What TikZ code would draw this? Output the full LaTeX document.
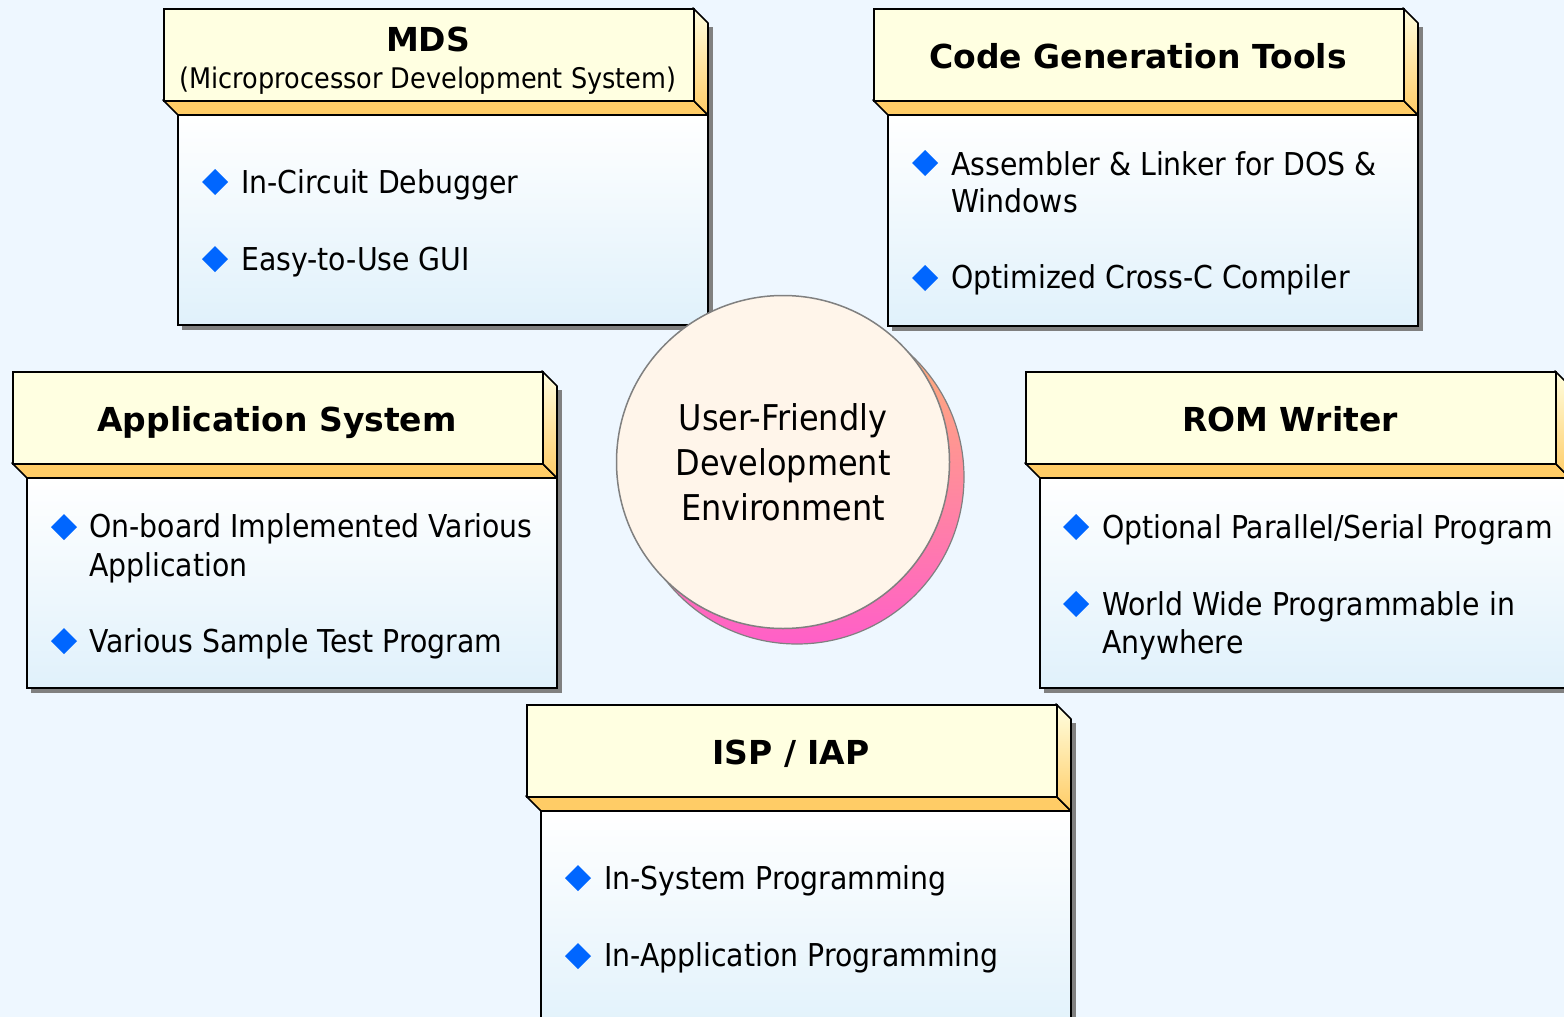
\documentclass[tikz,border=0pt]{standalone}
\usepackage{fontspec}
\setmainfont{DejaVu Sans}
\newfontfamily\narrowfont{DejaVu Sans}[FakeStretch=0.9]
\definecolor{bgc}{HTML}{EEF7FF}
\definecolor{hdr}{HTML}{FFFFE1}
\definecolor{hdrside}{HTML}{FFCC66}
\definecolor{bodytop}{HTML}{FFFFFF}
\definecolor{bodybot}{HTML}{E0F1FB}
\definecolor{shadowgray}{HTML}{808080}
\definecolor{bul}{HTML}{0066FF}
\definecolor{linen}{HTML}{FFF5EA}
\definecolor{circtop}{HTML}{FFB870}
\definecolor{circbot}{HTML}{FF5FC8}
\tikzset{
  hdrface/.style={draw=black, line width=1.6, fill=hdr, inner sep=0, anchor=north west},
  hdrtext/.style={font=\fontsize{33}{40}\selectfont\bfseries, anchor=base, inner sep=0},
  subtext/.style={font=\narrowfont\fontsize{28.4}{34}\selectfont, anchor=base, inner sep=0},
  itemtext/.style={font=\narrowfont\fontsize{31.5}{38}\selectfont, anchor=base west, inner sep=0},
  ctrtext/.style={font=\narrowfont\fontsize{35.5}{42}\selectfont, anchor=base, inner sep=0},
  bulletmark/.style={fill=bul}
}
% #1 x0, #2 y0, #3 x1, #4 y1, #5 bottom, #6 name
\newcommand\threedbox[6]{%
  \fill[shadowgray] (#1+19,#2+19) rectangle (#3+20,#5+5);
  \shadedraw[top color=bodytop, bottom color=bodybot, draw=black, line width=1.3]
     (#1+15,#4+15) rectangle (#3+15,#5);
  \filldraw[fill=hdrside, draw=black, line width=1.6, line join=round]
     (#1,#4) -- (#3,#4) -- (#3+15,#4+15) -- (#1+15,#4+15) -- cycle;
  \shadedraw[top color=hdr, bottom color=hdrside, draw=black, line width=1.6, line join=round]
     (#3,#2) -- (#3+15,#2+15) -- (#3+15,#4+15) -- (#3,#4) -- cycle;
  \node[hdrface, minimum width=#3-#1, minimum height=#4-#2] (#6) at (#1,#2) {};
}
\newcommand\bulletat[2]{%
  \fill[bulletmark] (#1-13,#2) -- (#1,#2-13) -- (#1+13,#2) -- (#1,#2+13) -- cycle;
}
\begin{document}
\begin{tikzpicture}[x=1pt,y=-1pt]
\useasboundingbox (0,0) rectangle (1564,1017);
\fill[bgc] (0,0) rectangle (1564,1017);

% ---------- MDS ----------
\threedbox{163}{8}{693}{100}{325}{mds}
\node[hdrtext] (mdsT) at (428,51) {MDS};
\node[subtext] (mdsS) at (428,88) {(Microprocessor Development System)};
\bulletat{215}{182}
\node[itemtext] (mds1) at (241,193) {In-Circuit Debugger};
\bulletat{215}{259}
\node[itemtext] (mds2) at (241,270) {Easy-to-Use GUI};

% ---------- Code Generation Tools ----------
\threedbox{873}{8}{1403}{100}{326}{cgt}
\node[hdrtext] (cgtT) at (1138,68) {Code Generation Tools};
\bulletat{925}{163}
\node[itemtext] (cgt1a) at (951,175) {Assembler \& Linker for DOS \&};
\node[itemtext] (cgt1b) at (951,212) {Windows};
\bulletat{925}{278}
\node[itemtext] (cgt2) at (951,288) {Optimized Cross-C Compiler};

% ---------- Application System ----------
\threedbox{12}{371}{542}{463}{688}{app}
\node[hdrtext] (appT) at (277,431) {Application System};
\bulletat{64}{527}
\node[itemtext] (app1a) at (89,537) {On-board Implemented Various};
\node[itemtext] (app1b) at (89,576) {Application};
\bulletat{64}{641}
\node[itemtext] (app2) at (89,652) {Various Sample Test Program};

% ---------- ROM Writer ----------
\threedbox{1025}{371}{1555}{463}{688}{rom}
\node[hdrtext] (romT) at (1290,431) {ROM Writer};
\bulletat{1076}{527}
\node[itemtext] (rom1) at (1102,538) {Optional Parallel/Serial Program};
\bulletat{1076}{604}
\node[itemtext] (rom2a) at (1102,615) {World Wide Programmable in};
\node[itemtext] (rom2b) at (1102,653) {Anywhere};

% ---------- ISP / IAP ----------
\threedbox{526}{704}{1056}{796}{1040}{isp}
\node[hdrtext] (ispT) at (791,764) {ISP / IAP};
\bulletat{578}{878}
\node[itemtext] (isp1) at (604,889) {In-System Programming};
\bulletat{578}{956}
\node[itemtext] (isp2) at (604,966) {In-Application Programming};

% ---------- centre circle ----------
\shadedraw[top color=circtop, bottom color=circbot, draw=shadowgray, line width=1.2]
   (797,477) circle (167);
\node[circle, fill=linen, draw=shadowgray, line width=1.5, minimum size=333, inner sep=0] (ctr) at (783,462) {};
\node[ctrtext] (ctr1) at (783,430) {User-Friendly};
\node[ctrtext] (ctr2) at (783,475) {Development};
\node[ctrtext] (ctr3) at (783,520) {Environment};
\end{tikzpicture}
\end{document}
